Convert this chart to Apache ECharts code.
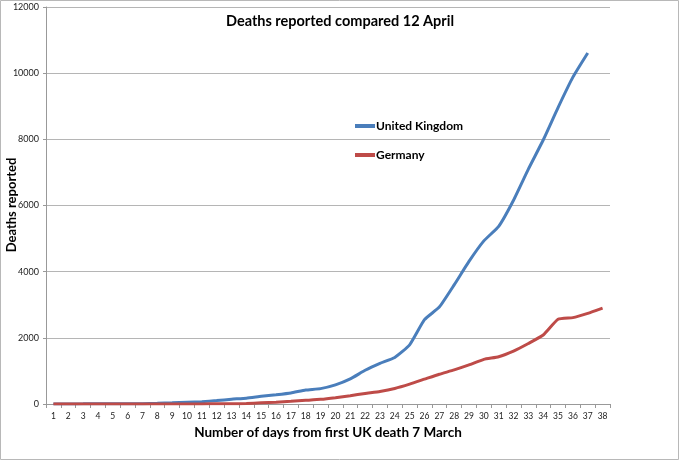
<!DOCTYPE html>
<html>
<head>
<meta charset="utf-8">
<script src="https://cdn.jsdelivr.net/npm/echarts@6/dist/echarts.min.js"></script>
<style>
html,body{margin:0;padding:0;background:#fff;}
#c{width:680px;height:461px;}
</style>
</head>
<body>
<div id="c"></div>
<script>
const days = ['1','2','3','4','5','6','7','8','9','10','11','12','13','14','15','16','17','18','19','20','21','22','23','24','25','26','27','28','29','30','31','32','33','34','35','36','37','38'];
const ukDeaths = [2,3,4,6,8,8,10,21,35,55,71,104,144,177,233,281,335,422,465,578,759,1019,1228,1408,1789,2550,2930,3600,4310,4930,5370,6160,7100,7980,8960,9880,10610];
const germanyDeaths = [0,0,0,0,0,0,0,0,2,2,3,6,9,13,35,55,80,110,140,190,250,320,380,470,600,750,900,1030,1180,1350,1430,1600,1830,2085,2560,2610,2740,2900];
const yTicks = [0,2000,4000,6000,8000,10000,12000];
const yAxisTitle = 'Deaths reported';

const FONT = 'Lato';
const chart = echarts.init(document.getElementById('c'), null, {renderer:'canvas'});
chart.setOption({
  backgroundColor:'#fff',
  animation:false,
  graphic:[
    {type:'rect',shape:{x:0.5,y:0.5,width:678,height:459},style:{fill:'none',stroke:'#b8b8b8',lineWidth:1},silent:true},
    {type:'text',x:12,y:205,rotation:Math.PI/2,silent:true,
     style:{text:yAxisTitle,fontFamily:FONT,fontWeight:'bold',fontSize:13,fill:'#000',
            textAlign:'center',textVerticalAlign:'middle'}}
  ],
  title:{
    text:'Deaths reported compared 12 April',
    left:'center', top:9,
    textStyle:{fontFamily:FONT,fontWeight:'bold',fontSize:14.5,color:'#000'}
  },
  legend:{
    orient:'vertical', left:350, top:115, itemGap:17,
    itemWidth:20, itemHeight:4, icon:'rect',
    textStyle:{fontFamily:FONT,fontWeight:'bold',fontSize:12,color:'#000',padding:[0,0,0,-4]},
    data:['United Kingdom','Germany']
  },
  grid:{left:46,right:70,top:7,bottom:57,containLabel:false,outerBoundsMode:'none'},
  xAxis:{
    type:'category', data:days, boundaryGap:true,
    name:'Number of days from first UK death 7 March',
    nameLocation:'middle', nameGap:22,
    nameTextStyle:{fontFamily:FONT,fontWeight:'bold',fontSize:13.5,color:'#000'},
    axisLine:{lineStyle:{color:'#999',width:1}},
    axisTick:{show:true,alignWithLabel:false,length:4,lineStyle:{color:'#999'}},
    axisLabel:{fontFamily:FONT,fontSize:8.5,color:'#222',margin:8,interval:0}
  },
  yAxis:{
    type:'value', min:0, max:12000, interval:2000,
    axisLine:{show:true,lineStyle:{color:'#999',width:1}},
    axisTick:{show:true,length:3,lineStyle:{color:'#999'}},
    axisLabel:{fontFamily:FONT,fontSize:9,color:'#222',margin:7,
      formatter:function(v){return yTicks.indexOf(v)>=0?String(v):'';}},
    splitLine:{show:true,lineStyle:{color:'#b5b5b5',width:1}}
  },
  series:[
    {name:'United Kingdom',type:'line',data:ukDeaths,showSymbol:false,smooth:0.15,
     lineStyle:{color:'#4a7ebb',width:3},itemStyle:{color:'#4a7ebb'}},
    {name:'Germany',type:'line',data:germanyDeaths,showSymbol:false,smooth:0.15,
     lineStyle:{color:'#be4b48',width:3},itemStyle:{color:'#be4b48'}}
  ]
});
</script>
</body>
</html>
